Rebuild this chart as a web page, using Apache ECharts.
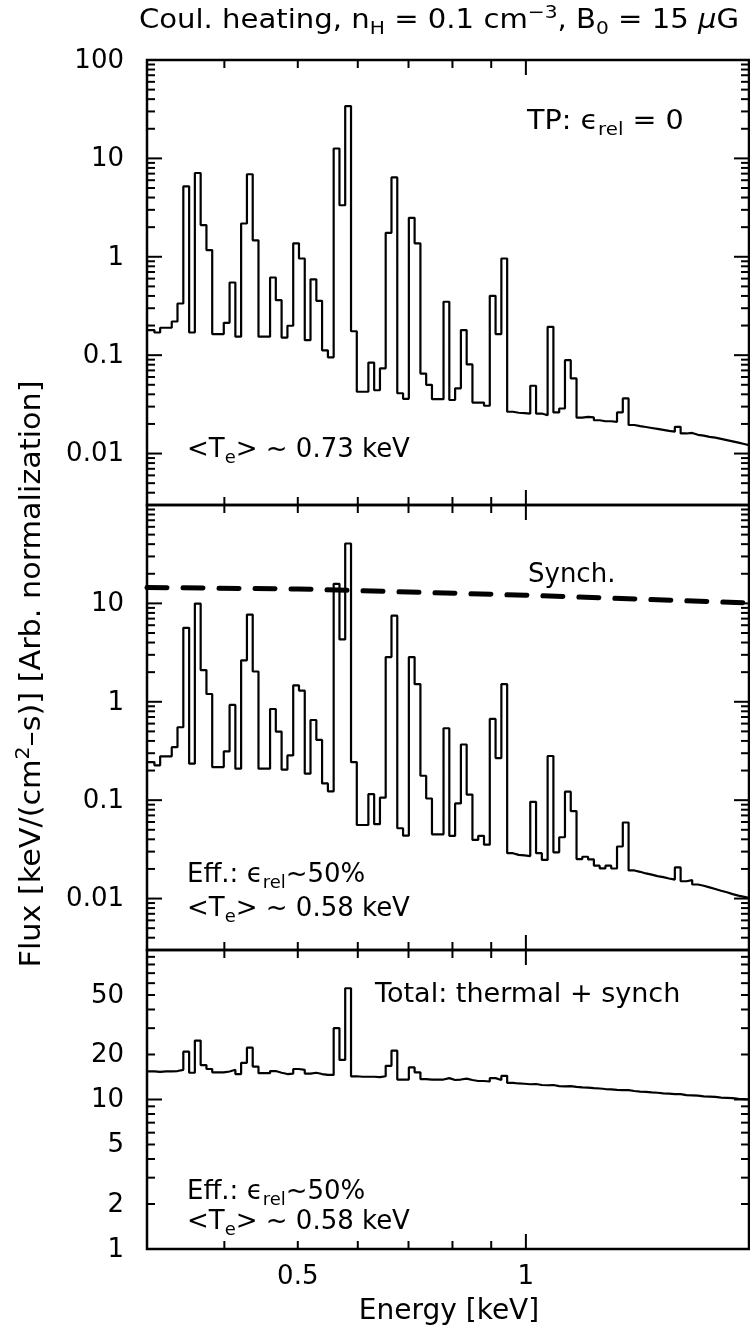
<!DOCTYPE html>
<html><head><meta charset="utf-8">
<script src="https://cdn.jsdelivr.net/npm/echarts@6/dist/echarts.min.js"></script>
<style>html,body{margin:0;padding:0;background:#fff;}#c{width:750px;height:1339px;}</style>
</head><body><div id="c"></div>
<script>
// ---- data ----
const binEdges = [0.3162,0.3234,0.3291,0.3350,0.3409,0.3469,0.3531,0.3594,0.3657,0.3722,
0.3788,0.3855,0.3924,0.3993,0.4064,0.4136,0.4209,0.4284,0.4360,0.4437,
0.4516,0.4596,0.4677,0.4760,0.4845,0.4931,0.5018,0.5107,0.5197,0.5290,
0.5383,0.5479,0.5576,0.5675,0.5775,0.5878,0.5982,0.6088,0.6196,0.6306,
0.6418,0.6531,0.6647,0.6765,0.6885,0.7007,0.7131,0.7258,0.7386,0.7517,
0.7651,0.7786,0.7924,0.8065,0.8208,0.8353,0.8501,0.8652,0.8805,0.8961,
0.9120,0.9282,0.9447,0.9614,0.9784,0.9958,1.0134,1.0314,1.0497,1.0683,
1.0872,1.1065,1.1261,1.1461,1.1664,1.1871,1.2081,1.2296,1.2514,1.2735,
1.2961,1.3191,1.3425,1.3663,1.3905,1.4152,1.4402,1.4658,1.4918,1.5182,
1.5451,1.5725,1.6004,1.6288,1.6576,1.6870,1.7169,1.7474,1.7783,1.8099,
1.8420,1.8746,1.9078,1.9417,1.9761];

const thermalTP = [0.18,0.17,0.19,0.19,0.22,0.335,5.2,0.17,7.1,2.1,
1.17,0.164,0.164,0.213,0.548,0.154,2.18,6.9,1.47,0.154,
0.154,0.616,0.362,0.151,0.199,1.37,0.96,0.142,0.59,0.357,
0.112,0.095,12.6,3.34,34,0.175,0.0425,0.0425,0.084,0.044,
0.0735,1.75,6.4,0.041,0.036,2.49,1.37,0.065,0.05,0.0357,
0.0357,0.349,0.035,0.046,0.18,0.0805,0.033,0.033,0.0306,0.401,
0.164,0.96,0.0266,0.026,0.0258,0.0255,0.0489,0.0255,0.0245,0.194,
0.0262,0.0287,0.089,0.058,0.0232,0.0236,0.0233,0.0218,0.0213,0.0213,
0.021,0.0262,0.0363,0.0195,0.019,0.0186,0.0182,0.0178,0.0174,0.017,
0.0167,0.0187,0.016,0.0162,0.0155,0.0152,0.0148,0.0145,0.0141,0.0137,
0.0133,0.0129,0.0125,0.0121];

const thermalEff = [0.244,0.226,0.279,0.279,0.346,0.551,5.65,0.235,9.95,2.1,
1.2,0.217,0.217,0.313,0.93,0.209,2.64,7.7,2.03,0.209,
0.209,0.844,0.498,0.204,0.285,1.47,1.3,0.186,0.653,0.41,
0.148,0.123,15.8,4.3,40.6,0.244,0.0559,0.0559,0.115,0.057,
0.106,2.85,7.5,0.0518,0.0436,2.85,1.51,0.177,0.104,0.045,
0.045,0.538,0.0434,0.0926,0.368,0.114,0.0394,0.0434,0.0353,0.669,
0.268,1.51,0.0289,0.0278,0.0275,0.027,0.0962,0.0289,0.0247,0.281,
0.0295,0.042,0.122,0.0774,0.0252,0.0266,0.025,0.0216,0.0203,0.0216,
0.0202,0.0338,0.0593,0.0193,0.0187,0.018,0.0175,0.0169,0.0165,0.016,
0.0156,0.0207,0.015,0.0154,0.0139,0.0135,0.013,0.0125,0.012,0.0116,
0.0111,0.0107,0.0104,0.0101];

const totalEff = [15.4,15.3,15.4,15.4,15.5,15.8,20.9,15.1,24.8,17.0,
16.0,15.2,15.2,15.4,15.8,14.8,17.6,22.2,16.6,15.0,
15.0,15.5,15.1,14.8,14.9,16.0,15.8,14.9,15.1,14.8,
14.6,14.6,30.0,18.4,55.5,14.3,14.2,14.2,14.2,14.1,
14.3,16.8,21.2,13.6,13.6,16.4,15.2,13.7,13.6,13.6,
13.6,13.9,13.5,13.6,13.8,13.5,13.3,13.3,13.2,13.9,
13.5,14.4,12.9,12.8,12.75,12.65,12.7,12.5,12.45,12.5,
12.3,12.25,12.3,12.15,12.05,12.0,11.9,11.85,11.75,11.7,
11.6,11.55,11.55,11.4,11.3,11.25,11.15,11.1,11.0,10.95,
10.85,10.85,10.7,10.65,10.6,10.5,10.45,10.4,10.3,10.25,
10.2,10.1,10.05,10.0];

const synchE = [0.3162, 0.5, 1.0, 1.97];
const synchFlux = [14.5, 14.0, 12.1, 10.1];

const xMajorTicks = [1];
const xMinorTicks = [0.4,0.5,0.6,0.7,0.8,0.9];
const xTickLabels = [0.5, 1];
const yMajorTicksA = [0.01,0.1,1,10,100];
const yMinorTicksA = [0.004,0.005,0.006,0.007,0.008,0.009,0.02,0.03,0.04,0.05,0.06,0.07,0.08,0.09,
0.2,0.3,0.4,0.5,0.6,0.7,0.8,0.9,2,3,4,5,6,7,8,9,20,30,40,50,60,70,80,90];
const yMajorTicksB = [1,10,100];
const yMinorTicksB = [2,3,4,5,6,7,8,9,20,30,40,50,60,70,80,90];
const yLabelsTop = [100,10,1,0.1,0.01];
const yLabelsMid = [10,1,0.1,0.01];
const yLabelsBot = [50,20,10,5,2,1];

// ---- layout ----
const F = 'DejaVu Sans';
const GL = 147, GW = 602;
const grids = [{top:60,height:445},{top:505,height:445},{top:950,height:299}];
const X_MIN = 0.3162, X_MAX = 1.97;
const yRanges = [[0.003,100],[0.003,100],[1,100]];

const chart = echarts.init(document.getElementById('c'), null, {renderer:'canvas'});

function yTicks(gi, vals, len){
  return {type:'custom', xAxisIndex:gi, yAxisIndex:gi, silent:true, z:10,
    data: vals.map(v=>[X_MIN, v]),
    renderItem:(params, api)=>{
      const cs = params.coordSys; const p = api.coord([api.value(0), api.value(1)]);
      const st = {stroke:'#000', lineWidth:2};
      return {type:'group', children:[
        {type:'line', shape:{x1:cs.x, y1:p[1], x2:cs.x+len, y2:p[1]}, style:st},
        {type:'line', shape:{x1:cs.x+cs.width, y1:p[1], x2:cs.x+cs.width-len, y2:p[1]}, style:st}
      ]};
    }};
}
function xTicks(gi, vals, len){
  const ymin = yRanges[gi][0];
  return {type:'custom', xAxisIndex:gi, yAxisIndex:gi, silent:true, z:10,
    data: vals.map(v=>[v, ymin]),
    renderItem:(params, api)=>{
      const cs = params.coordSys; const p = api.coord([api.value(0), api.value(1)]);
      const st = {stroke:'#000', lineWidth:2};
      return {type:'group', children:[
        {type:'line', shape:{x1:p[0], y1:cs.y+cs.height, x2:p[0], y2:cs.y+cs.height-len}, style:st},
        {type:'line', shape:{x1:p[0], y1:cs.y, x2:p[0], y2:cs.y+len}, style:st}
      ]};
    }};
}
function yLabels(gi, vals){
  return {type:'custom', xAxisIndex:gi, yAxisIndex:gi, silent:true, z:10,
    data: vals.map(v=>[X_MIN, v]),
    renderItem:(params, api)=>{
      const cs = params.coordSys; const p = api.coord([api.value(0), api.value(1)]);
      return {type:'text', x:cs.x-23, y:p[1]+1, style:{text:String(api.value(1)), fontSize:26, fontFamily:F, fill:'#000', align:'right', verticalAlign:'middle'}};
    }};
}
function xLabels(gi, vals){
  const ymin = yRanges[gi][0];
  return {type:'custom', xAxisIndex:gi, yAxisIndex:gi, silent:true, z:10,
    data: vals.map(v=>[v, ymin]),
    renderItem:(params, api)=>{
      const cs = params.coordSys; const p = api.coord([api.value(0), api.value(1)]);
      return {type:'text', x:p[0], y:cs.y+cs.height+28, style:{text:String(api.value(0)), fontSize:26, fontFamily:F, fill:'#000', align:'center', verticalAlign:'middle'}};
    }};
}
function stepData(vals){ return binEdges.map((e,i)=>[e, vals[Math.min(i, vals.length-1)]]); }
function spec(gi, vals){
  return {type:'line', xAxisIndex:gi, yAxisIndex:gi, data:stepData(vals), step:'end', symbol:'none', showSymbol:false,
    lineStyle:{color:'#000', width:2.2}, z:5, silent:true};
}

const RICH = {
  n:{fontSize:26,fontFamily:F,lineHeight:34,fill:'#000'},
  b:{fontSize:28,fontFamily:F,lineHeight:36,fill:'#000'},
  sub:{fontSize:18,fontFamily:F,lineHeight:18,verticalAlign:'bottom',fill:'#000'},
  sup:{fontSize:18,fontFamily:F,lineHeight:18,verticalAlign:'top',fill:'#000'},
  bsup:{fontSize:19,fontFamily:F,lineHeight:19,verticalAlign:'top',fill:'#000'},
  it:{fontSize:26,fontFamily:F,lineHeight:34,fontStyle:'italic',fill:'#000'}
};
function T(x, y, text, o){
  o = o || {};
  return {type:'text', x:x, y:y, scaleX:o.sx||1, rotation:o.rot||0, silent:true, z:50,
    style:{text:text, rich:RICH, align:o.align||'left', verticalAlign:o.va||'top', fill:'#000', fontSize:26, fontFamily:F}};
}

const series = [
  spec(0, thermalTP), spec(1, thermalEff), spec(2, totalEff),
  {type:'line', xAxisIndex:1, yAxisIndex:1, data:synchE.map((e,i)=>[e, synchFlux[i]]), symbol:'none', showSymbol:false,
    lineStyle:{color:'#000', width:5, type:[20,16], cap:'round'}, z:4, silent:true},
  yTicks(0, yMajorTicksA, 15), yTicks(0, yMinorTicksA, 8),
  yTicks(1, yMajorTicksA, 15), yTicks(1, yMinorTicksA, 8),
  yTicks(2, yMajorTicksB, 15), yTicks(2, yMinorTicksB, 8),
  xTicks(0, xMajorTicks, 15), xTicks(0, xMinorTicks, 8),
  xTicks(1, xMajorTicks, 15), xTicks(1, xMinorTicks, 8),
  xTicks(2, xMajorTicks, 15), xTicks(2, xMinorTicks, 8),
  yLabels(0, yLabelsTop), yLabels(1, yLabelsMid), yLabels(2, yLabelsBot),
  xLabels(2, xTickLabels)
];

const option = {
  animation:false,
  backgroundColor:'#fff',
  grid: grids.map(g=>({left:GL, width:GW, top:g.top, height:g.height, show:true, borderColor:'#000', borderWidth:2.5, backgroundColor:'transparent'})),
  xAxis: grids.map((g,i)=>({type:'log', logBase:10, gridIndex:i, min:X_MIN, max:X_MAX,
    axisLine:{show:false}, axisTick:{show:false}, axisLabel:{show:false}, splitLine:{show:false}})),
  yAxis: yRanges.map((r,i)=>({type:'log', logBase:10, gridIndex:i, min:r[0], max:r[1],
    axisLine:{show:false}, axisTick:{show:false}, axisLabel:{show:false}, splitLine:{show:false}})),
  series: series,
  graphic: [
    T(439, 4, '{n|Coul. heating, n}{sub|H}{n| = 0.1 cm}{sup|\u22123}{n|, B}{sub|0}{n| = 15 }{it|\u03BC}{n|G}', {align:'center', sx:1.12}),
    T(527, 105, '{n|TP: \u03F5}{sub|rel}{n| = 0}', {sx:1.1}),
    T(187, 433, '{n|<T}{sub|e}{n|> ~ 0.73 keV}'),
    T(528, 558, '{n|Synch.}'),
    T(187, 858, '{n|Eff.: \u03F5}{sub|rel}{n|~50%}'),
    T(187, 892, '{n|<T}{sub|e}{n|> ~ 0.58 keV}'),
    T(375, 978, '{n|Total: thermal + synch}', {sx:1.04}),
    T(187, 1175, '{n|Eff.: \u03F5}{sub|rel}{n|~50%}'),
    T(187, 1205, '{n|<T}{sub|e}{n|> ~ 0.58 keV}'),
    T(449, 1294, '{b|Energy [keV]}', {align:'center'}),
    T(33, 674, '{b|Flux [keV/(cm}{bsup|2}{b|\u2013s)] [Arb. normalization]}', {align:'center', va:'middle', rot:Math.PI/2, sx:1.08})
  ]
};
chart.setOption(option);
</script>
</body></html>
